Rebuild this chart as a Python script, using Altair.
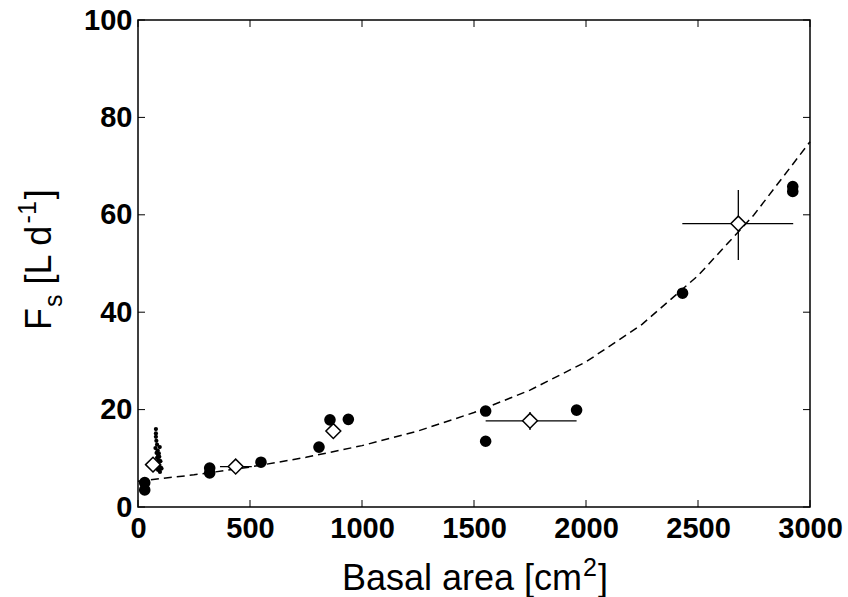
import altair as alt
import pandas as pd

# Filled circles (individual trees)
fx = [30, 30, 320, 320, 549, 808, 857, 939, 1552, 1552, 1958, 2431, 2923, 2923]
fy = [3.5, 5.0, 7.0, 8.0, 9.2, 12.3, 17.9, 18.0, 19.7, 13.5, 19.9, 43.9, 64.8, 65.8]

# Small dots (many small stems)
sx = [80, 80, 80, 82, 85, 78, 88, 83, 90, 85, 95, 92, 88, 100, 95, 102, 90, 98, 105, 85, 93, 97]
sy = [16.0, 15.1, 14.4, 13.6, 12.8, 12.1, 11.6, 11.1, 10.6, 10.1, 10.3, 9.6, 9.1, 9.4, 8.6, 8.1, 7.6, 7.2, 7.9, 7.9, 11.0, 12.3]

# Class means (open diamonds) with error ranges
dx = [67, 436, 872, 1750, 2680]
dy = [8.7, 8.3, 15.6, 17.7, 58.2]
dx_lo = [67, 366, 850, 1552, 2430]
dx_hi = [67, 508, 895, 1958, 2925]
dy_lo = [8.7, 7.6, 14.3, 15.8, 50.7]
dy_hi = [8.7, 9.0, 17.0, 19.5, 65.1]

# Fitted curve (dashed)
cx = [0, 250, 500, 750, 1000, 1250, 1500, 1750, 2000, 2250, 2500, 2750, 3000]
cy = [5.3, 6.6, 8.2, 10.2, 12.6, 15.6, 19.4, 24.0, 29.8, 37.5, 47.5, 60.0, 75.0]

xticks = [0, 500, 1000, 1500, 2000, 2500, 3000]
yticks = [0, 20, 40, 60, 80, 100]

W, H = 672, 487
LEFT, TOP = 138, 20
TK = 7

filled = pd.DataFrame({"x": fx, "y": fy})
small = pd.DataFrame({"x": sx, "y": sy})
diam = pd.DataFrame({"x": dx, "y": dy, "xlo": dx_lo, "xhi": dx_hi, "ylo": dy_lo, "yhi": dy_hi})
curve = pd.DataFrame({"x": cx, "y": cy})
xt = pd.DataFrame({"t": xticks})
yt = pd.DataFrame({"t": yticks})

font = "Liberation Sans"
LAB = 29
TIT = 36
SUP = 25
xs = alt.Scale(domain=[0, 3000], nice=False)
ys = alt.Scale(domain=[0, 100], nice=False)

xaxis = alt.Axis(values=xticks, title=None, format="d", labelFont=font, labelFontSize=LAB,
                 labelFontWeight="bold", labelColor="black", ticks=False, domain=False,
                 grid=False, labelPadding=7, labelFlush=False)
yaxis = alt.Axis(values=yticks, title=None, format="d", labelFont=font, labelFontSize=LAB,
                 labelFontWeight="bold", labelColor="black", ticks=False, domain=False,
                 grid=False, labelPadding=6, labelFlush=False)

line = alt.Chart(curve).mark_line(color="black", strokeDash=[8, 5], strokeWidth=1.5).encode(
    x=alt.X("x:Q", scale=xs, axis=xaxis), y=alt.Y("y:Q", scale=ys, axis=yaxis))

errx = alt.Chart(diam).mark_rule(color="black", strokeWidth=1.3).encode(
    x=alt.X("xlo:Q", scale=xs), x2="xhi:Q", y=alt.Y("y:Q", scale=ys))
erry = alt.Chart(diam).mark_rule(color="black", strokeWidth=1.3).encode(
    x=alt.X("x:Q", scale=xs), y=alt.Y("ylo:Q", scale=ys), y2="yhi:Q")

pts = alt.Chart(filled).mark_point(shape="circle", filled=True, color="black", size=135, opacity=1).encode(
    x=alt.X("x:Q", scale=xs), y=alt.Y("y:Q", scale=ys))
dots = alt.Chart(small).mark_point(shape="circle", filled=True, color="black", size=18, opacity=1).encode(
    x=alt.X("x:Q", scale=xs), y=alt.Y("y:Q", scale=ys))
dm = alt.Chart(diam).mark_point(shape="diamond", filled=True, fill="white", stroke="black",
                                strokeWidth=1.5, size=220, opacity=1).encode(
    x=alt.X("x:Q", scale=xs), y=alt.Y("y:Q", scale=ys))

tb = alt.Chart(xt).mark_rule(color="black", strokeWidth=1).encode(
    x=alt.X("t:Q", scale=xs), y=alt.value(H), y2=alt.value(H - TK))
tt = alt.Chart(xt).mark_rule(color="black", strokeWidth=1).encode(
    x=alt.X("t:Q", scale=xs), y=alt.value(0), y2=alt.value(TK))
tl = alt.Chart(yt).mark_rule(color="black", strokeWidth=1).encode(
    y=alt.Y("t:Q", scale=ys), x=alt.value(0), x2=alt.value(TK))
tr = alt.Chart(yt).mark_rule(color="black", strokeWidth=1).encode(
    y=alt.Y("t:Q", scale=ys), x=alt.value(W), x2=alt.value(W - TK))

# ---- composite axis titles (sub/superscripts) ----
def txt(s, x, y, size, angle=0):
    return alt.Chart(pd.DataFrame({"a": [0]})).mark_text(
        text=s, font=font, fontSize=size, color="black", align="left",
        baseline="alphabetic", angle=angle).encode(x=alt.value(x), y=alt.value(y))

# x title: "Basal area [cm" + sup "2" + "]"
w_main = 6.669 * TIT
w_sup = 0.556 * SUP
w_br = 0.278 * TIT
total = w_main + w_sup + w_br
x0 = W / 2 - total / 2
xb = 590 - TOP
xt1 = txt("Basal area [cm", x0, xb, TIT)
xt2 = txt("2", x0 + w_main + 1, xb - 14, SUP)
xt3 = txt("]", x0 + w_main + w_sup + 2, xb, TIT)

# y title rotated: "F" + sub "s" + " [L d" + sup "-1" + "]"
yb = 51 - LEFT          # baseline x of main text
ystart = 330 - TOP      # bottom (start) of text
wF = 0.611 * TIT
ws = 0.5 * SUP
wsp = 0.278 * TIT
wL = 1.668 * TIT
wm = (0.333 + 0.556) * SUP
p1 = ystart
p2 = p1 - wF - 1
p3 = p2 - ws - wsp
p4 = p3 - wL - 1
p5 = p4 - wm - 2
y1 = txt("F", yb, p1, TIT, 270)
y2 = txt("s", yb + 11, p2, SUP, 270)
y3 = txt("[L d", yb, p3, TIT, 270)
y4 = txt("-1", yb - 15, p4, SUP, 270)
y5 = txt("]", yb, p5, TIT, 270)

chart = alt.layer(line, errx, erry, dots, pts, dm, tb, tt, tl, tr,
                  xt1, xt2, xt3, y1, y2, y3, y4, y5).properties(
    width=W, height=H, autosize="none",
    padding={"left": LEFT, "top": TOP, "right": 848 - LEFT - W, "bottom": 597 - TOP - H},
    background="white",
).configure_view(stroke="black", strokeWidth=1.5)

chart.save("out.html", embed_options={"renderer": "svg", "actions": False})
